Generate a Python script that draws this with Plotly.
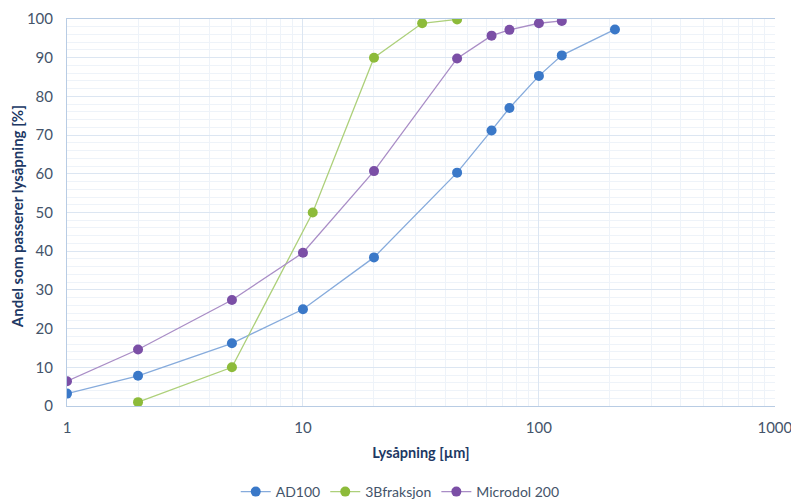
import plotly.graph_objects as go

# Sieve openings [µm] and cumulative passing [%]
ad100_x = [1, 2, 5, 10, 20, 45, 63, 75, 100, 125, 210]
ad100_y = [3.2, 7.8, 16.2, 25.0, 38.4, 60.3, 71.2, 77.0, 85.3, 90.6, 97.3]

frak3b_x = [2, 5, 11, 20, 32, 45]
frak3b_y = [1.0, 10.0, 50.0, 90.0, 98.9, 99.9]

micro_x = [1, 2, 5, 10, 20, 45, 63, 75, 100, 125]
micro_y = [6.4, 14.6, 27.4, 39.6, 60.7, 89.8, 95.7, 97.2, 98.9, 99.5]

x_ticks = [1, 10, 100, 1000]
y_ticks = list(range(0, 101, 10))

series = [
    ("AD100", ad100_x, ad100_y, "#3A78C8", "#86ABDC"),
    ("3Bfraksjon", frak3b_x, frak3b_y, "#8DBB3A", "#ADD07A"),
    ("Microdol 200", micro_x, micro_y, "#7B4FA6", "#A98DC6"),
]

fig = go.Figure()
for name, xs, ys, mcol, lcol in series:
    fig.add_trace(go.Scatter(
        x=xs, y=ys, name=name, mode="lines+markers",
        line=dict(color=lcol, width=1.3),
        marker=dict(color=mcol, size=10, line=dict(width=0)),
    ))

font_fam = "Lato, 'Liberation Sans', sans-serif"
tick_col = "#44546A"
title_col = "#203864"
grid_major = "#DCE6F2"
grid_minor = "#EEF3F9"
axis_col = "#B8CCE4"

fig.update_layout(
    width=791, height=500,
    margin=dict(l=67, r=16, t=19, b=94, autoexpand=False),
    paper_bgcolor="white", plot_bgcolor="white",
    font=dict(family=font_fam, size=14, color=tick_col),
    legend=dict(orientation="h", xref="container", x=0.506, xanchor="center",
                yref="container", y=0.016, yanchor="middle",
                font=dict(size=14, color=tick_col), itemwidth=30,
                traceorder="normal"),
    showlegend=True,
)

fig.update_xaxes(
    type="log", range=[0, 3.0005], automargin=False,
    tickvals=x_ticks, ticktext=[str(v) for v in x_ticks],
    ticklabeloverflow="allow",
    showgrid=True, gridcolor=grid_major, gridwidth=1,
    minor=dict(showgrid=True, gridcolor=grid_minor, gridwidth=1,
               tickvals=[m * 10 ** d for d in range(3) for m in range(2, 10)]),
    showline=True, linecolor=axis_col, linewidth=1, mirror=True,
    ticks="", ticklabelstandoff=8,
    tickfont=dict(size=15, color=tick_col),
    title=dict(text="<b>Lysåpning [µm]</b>", font=dict(size=14.5, color=title_col), standoff=12),
    zeroline=False,
)

fig.update_yaxes(
    range=[0, 100], automargin=False,
    tickvals=y_ticks,
    showgrid=True, gridcolor=grid_major, gridwidth=1,
    minor=dict(showgrid=True, gridcolor=grid_minor, gridwidth=1, dtick=2),
    showline=True, linecolor=axis_col, linewidth=1, mirror=False,
    ticks="", ticklabelstandoff=10,
    tickfont=dict(size=15, color=tick_col),
    zeroline=False,
)

# Vertical axis title placed as an annotation left of the tick labels
fig.add_annotation(
    text="<b>Andel som passerer lysåpning [%]</b>",
    xref="paper", yref="paper", x=-0.0706, y=0.488,
    xanchor="center", yanchor="middle", textangle=-90, showarrow=False,
    font=dict(size=15, color=title_col),
)

fig.write_html("out.html")
